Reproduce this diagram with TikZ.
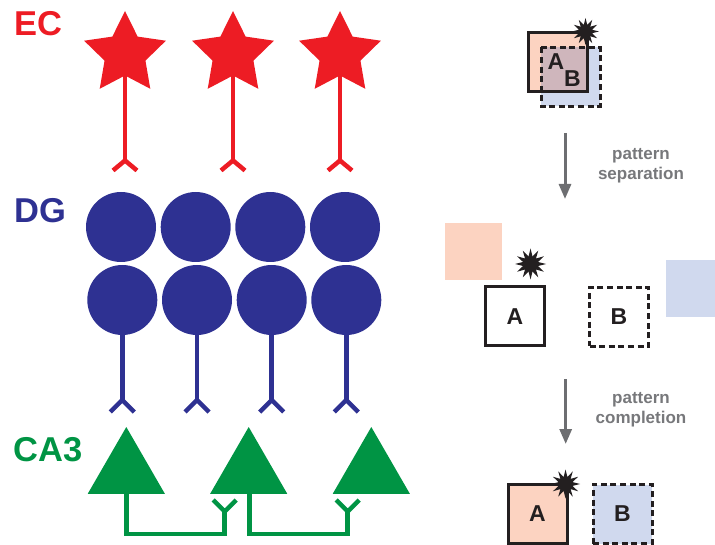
\documentclass[tikz,border=0pt]{standalone}
\usepackage{fontspec}
\setmainfont{Liberation Sans}
\usetikzlibrary{shapes.geometric,arrows.meta}

\definecolor{ecred}{RGB}{237,28,36}
\definecolor{dgblue}{RGB}{46,49,146}
\definecolor{cagreen}{RGB}{0,148,68}
\definecolor{salmon}{RGB}{252,211,193}
\definecolor{paleblue}{RGB}{208,217,238}
\definecolor{mauve}{RGB}{207,182,188}
\definecolor{ink}{RGB}{35,31,32}
\definecolor{arrowgray}{RGB}{109,110,113}
\definecolor{captiongray}{RGB}{119,120,123}

\begin{document}
\begin{tikzpicture}[x=1pt,y=-1pt,
  region/.style={font=\bfseries\fontsize{34.5}{34.5}\selectfont, anchor=base west, inner sep=0},
  ecstar/.style={star, star points=5, star point ratio=2, minimum size=86pt,
                 inner sep=0, outer sep=0, fill=ecred},
  dgcell/.style={circle, minimum size=70pt, inner sep=0, outer sep=0, fill=dgblue},
  cacell/.style={regular polygon, regular polygon sides=3, minimum size=89pt,
                 inner sep=0, outer sep=0, fill=cagreen},
  neurite/.style={line width=4.5pt, line cap=butt, line join=miter},
  pbox/.style={rectangle, minimum size=#1, inner sep=0, outer sep=0},
  pbox/.default=59pt,
  solidedge/.style={line width=3pt, draw=ink},
  dashededge/.style={line width=3pt, draw=ink, dash pattern=on 6pt off 3.6pt},
  letter/.style={font=\bfseries\fontsize{23}{23}\selectfont, text=ink, inner sep=0},
  burst/.style={star, star points=12, star point ratio=2, minimum size=#1,
                inner sep=0, outer sep=0, fill=ink},
  burst/.default=29pt,
  flow/.style={line width=3pt, draw=arrowgray, -{Triangle[width=12pt,length=15pt]}},
  caption/.style={font=\bfseries\fontsize{17}{20}\selectfont, text=captiongray,
                  align=center, inner sep=0}
]
\useasboundingbox (0,0) rectangle (715,545);

% ---------------- region labels ----------------
\node[region, text=ecred]   (lblEC)  at (14,36)  {EC};
\node[region, text=dgblue]  (lblDG)  at (14,223) {DG};
\node[region, text=cagreen] (lblCA3) at (13,461) {CA3};

% ---------------- EC: stellate cells ----------------
\foreach \i/\x in {1/125,2/233,3/340}{
  \coordinate (ecj\i) at (\x,160.5);
  \draw[neurite, ecred] (\x,54) -- (ecj\i);
  \draw[neurite, ecred] ([shift={(-12,10)}]ecj\i) -- (ecj\i) -- ([shift={(12,10)}]ecj\i);
  \node[ecstar] (ec\i) at (\x,54) {};
}

% ---------------- DG: granule cells ----------------
\foreach \i/\x in {1/121,2/195.7,3/270.3,4/345}{
  \node[dgcell] (dga\i) at (\x,227) {};
}
\foreach \i/\x in {1/122.3,2/197,3/271.7,4/346.3}{
  \node[dgcell] (dgb\i) at (\x,300) {};
  \coordinate (dgj\i) at (\x,400);
  \draw[neurite, dgblue] (dgb\i.south) -- (dgj\i);
  \draw[neurite, dgblue] ([shift={(-12,12)}]dgj\i) -- (dgj\i) -- ([shift={(12,12)}]dgj\i);
}

% ---------------- CA3: pyramidal cells ----------------
\node[cacell] (ca1) at (126.3,471.5) {};
\node[cacell] (ca2) at (248.7,471.5) {};
\node[cacell] (ca3) at (371.3,471.5) {};

% recurrent collaterals
\coordinate (cab1) at (126.7,493);
\coordinate (cab2) at (249.3,493);
\coordinate (caj1) at (224.7,511.5);
\coordinate (caj2) at (347.7,511.5);
\draw[neurite, cagreen] (cab1) |- (0,534 -| caj1) -- (caj1);
\draw[neurite, cagreen] (cab2) |- (0,534 -| caj2) -- (caj2);
\foreach \j in {1,2}{
  \draw[neurite, cagreen] ([shift={(-11.5,-11.5)}]caj\j) -- (caj\j) -- ([shift={(11.5,-11.5)}]caj\j);
}

% ---------------- overlapping inputs ----------------
\node[pbox, fill=salmon]   (topA) at (558,62) {};
\node[pbox, fill=paleblue] (topB) at (570.5,77) {};
\fill[mauve] (topB.north west) rectangle (topA.south east);
\draw[solidedge]  (topA.north west) rectangle (topA.south east);
\draw[dashededge] (topB.north west) rectangle (topB.south east);
\node[letter] (topAl) at (556,61.5) {A};
\node[letter] (topBl) at (572.5,78.5) {B};
\node[burst=27pt] (topStar) at (585.5,31.5) {};

% ---------------- pattern separation ----------------
\coordinate (sepFrom) at (565,133);
\coordinate (sepTo)   at (565,199);
\draw[flow] (sepFrom) -- (sepTo);
\node[caption] (sepText) at (641,166) {pattern\\separation};

\node[pbox=57pt, fill=salmon] (midSalmon) at (473.5,251.5) {};
\node[burst=31pt] (midStar) at (530.5,264) {};
\node[pbox, solidedge, letter] (midA) at (515,316.5) {A};
\node[pbox, dashededge, letter] (midB) at (619,317) {B};
\node[pbox=57pt, fill=paleblue] (midBlue) at (694.5,288.5) {};

% ---------------- pattern completion ----------------
\coordinate (comFrom) at (565.7,379);
\coordinate (comTo)   at (565.7,444);
\draw[flow] (comFrom) -- (comTo);
\node[caption] (comText) at (641,410) {pattern\\completion};

\node[pbox, solidedge, fill=salmon, letter] (botA) at (537.5,514) {A};
\node[pbox, dashededge, fill=paleblue, letter] (botB) at (622.5,514) {B};
\node[burst=29pt] (botStar) at (565.5,484) {};

\end{tikzpicture}
\end{document}
